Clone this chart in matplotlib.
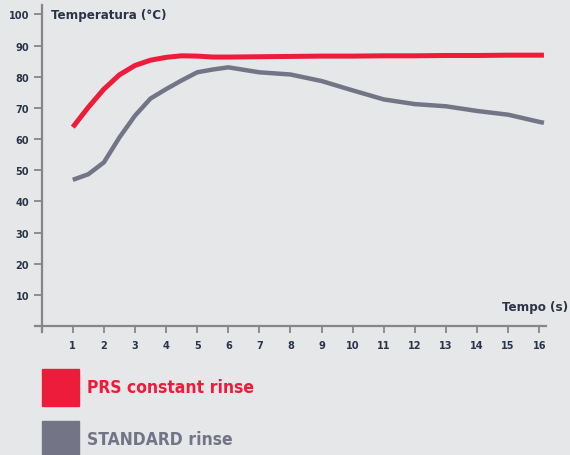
import matplotlib
matplotlib.use('Agg')
import matplotlib.pyplot as plt
from matplotlib.patches import Rectangle

# tempo (s) e temperature
tempo = [1, 1.5, 2, 2.5, 3, 3.5, 4, 4.5, 5, 5.5, 6, 7, 8, 9, 10, 11, 12, 13, 14, 15, 16, 16.15]
prs = [63.8, 70.2, 76.0, 80.6, 83.6, 85.3, 86.2, 86.7, 86.6, 86.3, 86.3, 86.4, 86.5, 86.6, 86.6, 86.7, 86.7, 86.8, 86.8, 86.9, 86.9, 86.9]
standard = [46.9, 48.7, 52.5, 60.5, 67.5, 73.0, 76.0, 78.8, 81.4, 82.3, 83.0, 81.4, 80.7, 78.6, 75.6, 72.7, 71.2, 70.5, 69.0, 67.8, 65.5, 65.2]

x_ticks = list(range(1, 17))
y_ticks = list(range(10, 101, 10))

bg = '#e6e7e9'
testo = '#2b3447'
rosso = '#ee1c3b'
grigio = '#737586'
asse = '#848688'

plt.rcParams['font.family'] = ['DejaVu Sans']
plt.rcParams['font.stretch'] = 'condensed'

fig = plt.figure(figsize=(5.7, 4.56), dpi=100, facecolor=bg)
W, H = 570, 456
# assi: x=0 a 41.7px, 16.2 a 545.5px ; y=0 a 327px, 103 a 6px
ax = fig.add_axes([41.7 / W, (H - 327) / H, (545.5 - 41.7) / W, (327 - 6) / H])
ax.set_facecolor(bg)
ax.set_xlim(0, 16.2)
ax.set_ylim(0, 103)

ax.plot(tempo, standard, color=grigio, lw=3.2, solid_capstyle='butt', solid_joinstyle='round', zorder=3)
ax.plot(tempo, prs, color=rosso, lw=3.6, solid_capstyle='butt', solid_joinstyle='round', zorder=4)

for s in ax.spines.values():
    s.set_visible(False)
# assi disegnati a mano per farli sporgere
ax.plot([-0.2, 16.2], [0, 0], color=asse, lw=1.6, clip_on=False, zorder=2)
ax.plot([0, 0], [-2, 103], color=asse, lw=1.6, clip_on=False, zorder=2)

ax.set_xticks(x_ticks)
ax.set_yticks(y_ticks)
ax.tick_params(axis='x', direction='out', length=5, width=1.3, color=asse,
               labelsize=7.8, labelcolor=testo, pad=5)
ax.tick_params(axis='y', direction='out', length=6, width=1.3, color=asse,
               labelsize=7.8, labelcolor=testo, pad=3)
for lab in ax.get_xticklabels() + ax.get_yticklabels():
    lab.set_fontweight('bold')
    lab.set_fontstretch('condensed')

fig.text(51 / W, 1 - 15 / H, 'Temperatura (°C)', color=testo, fontsize=9.5,
         fontweight='bold', fontstretch='condensed', ha='left', va='center')
fig.text(568 / W, 1 - 308 / H, 'Tempo (s)', color=testo, fontsize=9.5,
         fontweight='bold', fontstretch='condensed', ha='right', va='center')

# legenda
fig.patches.append(Rectangle((42 / W, 1 - 407 / H), 37 / W, 37 / H,
                             transform=fig.transFigure, color=rosso, figure=fig))
fig.patches.append(Rectangle((42 / W, 1 - 459 / H), 37 / W, 37 / H,
                             transform=fig.transFigure, color=grigio, figure=fig))
fig.text(87 / W, 1 - 388 / H, 'PRS constant rinse', color=rosso, fontsize=12.5,
         fontweight='bold', fontstretch='condensed', ha='left', va='center')
fig.text(87 / W, 1 - 440 / H, 'STANDARD rinse', color=grigio, fontsize=12.5,
         fontweight='bold', fontstretch='condensed', ha='left', va='center')

fig.savefig('out.png', dpi=100, facecolor=bg)
